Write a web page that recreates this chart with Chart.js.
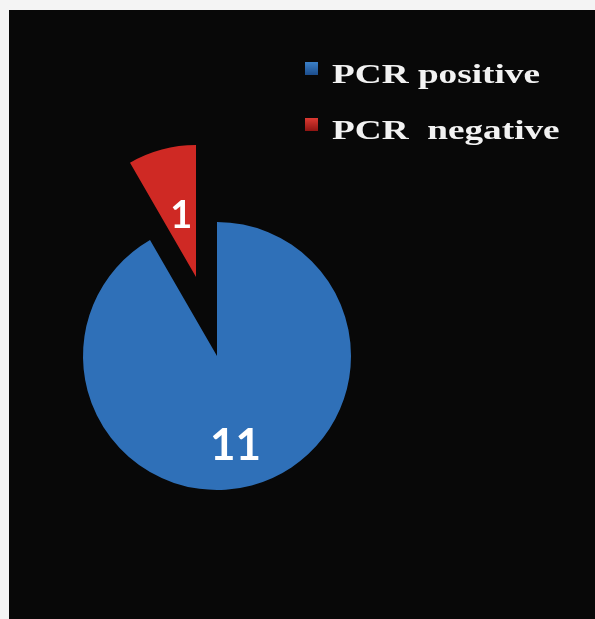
<!DOCTYPE html>
<html>
<head>
<meta charset="utf-8">
<script src="https://cdn.jsdelivr.net/npm/chart.js@4.4.1/dist/chart.umd.min.js"></script>
<style>
  html, body { margin: 0; padding: 0; background: #f4f4f4; }
  #wrap { position: absolute; left: 9px; top: 10px; width: 586px; height: 609px; background: #080808; }
  #wrap canvas { position: absolute; left: 0; top: 0; }
</style>
</head>
<body>
<div id="wrap">
  <canvas id="pieMain" width="586" height="609"></canvas>
  <canvas id="pieOut" width="586" height="609"></canvas>
</div>
<script>
  'use strict';

  // Chart values
  var categories = ['PCR positive', 'PCR  negative'];
  var counts = [11, 1];
  var sliceColors = ['#2f70b8', '#cf2924'];
  var sliceEdges = ['#1c4d8c', '#8e1512'];
  var sliceLights = ['#3b80c8', '#dc3a33'];
  var labelFractions = [0.68, 0.49];
  var labelSizes = [44, 38];
  var labelNudge = [-5, 2];

  function sliceFill(context) {
    var chart = context.chart;
    var i = context.dataIndex;
    var arc = chart.getDatasetMeta(0).data[i];
    if (!chart.chartArea || !arc || !arc.outerRadius) return sliceColors[i];
    var g = chart.ctx.createRadialGradient(arc.x - 20, arc.y - 40, 0, arc.x, arc.y, arc.outerRadius);
    g.addColorStop(0, sliceLights[i]);
    g.addColorStop(0.75, sliceColors[i]);
    g.addColorStop(0.92, sliceColors[i]);
    g.addColorStop(1, sliceEdges[i]);
    return g;
  }

  // number on the visible slice
  function sliceLabel(shown) {
    return {
      id: 'sliceLabel',
      afterDatasetsDraw: function (chart) {
        var ctx = chart.ctx;
        var arc = chart.getDatasetMeta(0).data[shown];
        var mid = (arc.startAngle + arc.endAngle) / 2;
        var r = labelFractions[shown] * arc.outerRadius;
        var size = labelSizes[shown];
        ctx.save();
        ctx.fillStyle = '#ffffff';
        ctx.font = 'bold ' + size + 'px Lato, "DejaVu Sans", sans-serif';
        ctx.textAlign = 'center';
        ctx.fillText(String(counts[shown]), arc.x + Math.cos(mid) * r + labelNudge[shown], arc.y + Math.sin(mid) * r + size * 0.36);
        ctx.restore();
      }
    };
  }

  // legend in the top right corner
  var cornerLegend = {
    id: 'cornerLegend',
    afterDraw: function (chart) {
      var ctx = chart.ctx;
      categories.forEach(function (name, i) {
        var bx = 296, by = 52 + i * 56;
        var g = ctx.createLinearGradient(bx, by, bx, by + 13);
        g.addColorStop(0, sliceLights[i]);
        g.addColorStop(1, sliceEdges[i]);
        ctx.fillStyle = g;
        ctx.fillRect(bx, by, 13, 13);
        ctx.save();
        ctx.translate(323, 73 + i * 56);
        ctx.scale(1.38, 1.05);
        ctx.fillStyle = '#f2f2f2';
        ctx.font = 'bold 27px "Liberation Serif", "Times New Roman", serif';
        ctx.fillText(name, 0, 0);
        ctx.restore();
      });
    }
  };

  // one pie per slice position: the exploded slice sits on its own layer
  function pieConfig(shown, radius, padding, extra) {
    return {
      type: 'pie',
      data: {
        labels: categories,
        datasets: [{
          data: counts,
          backgroundColor: function (context) {
            return context.dataIndex === shown ? sliceFill(context) : 'rgba(0,0,0,0)';
          },
          borderWidth: 0
        }]
      },
      options: {
        responsive: false,
        animation: false,
        radius: radius,
        layout: { padding: padding },
        plugins: {
          legend: { display: false },
          tooltip: { enabled: false }
        }
      },
      plugins: [sliceLabel(shown)].concat(extra)
    };
  }

  new Chart(document.getElementById('pieMain'),
    pieConfig(0, 134, { left: 20, right: 190, top: 100, bottom: 17 }, [cornerLegend]));
  new Chart(document.getElementById('pieOut'),
    pieConfig(1, 132, { left: 10, right: 222, top: 10, bottom: 85 }, []));
</script>
</body>
</html>
